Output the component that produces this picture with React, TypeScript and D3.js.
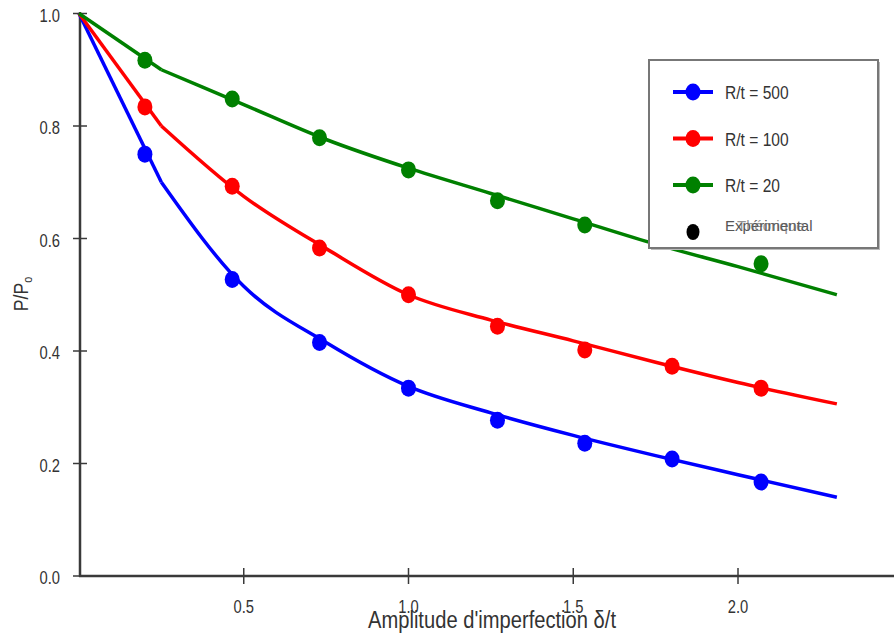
import React from "react";
import * as d3 from "d3";

// Theory curves (lines)
const theoryX = [0, 0.25, 0.5, 0.75, 1.0, 1.25, 1.5, 1.75, 2.0, 2.3];
const theory500 = [1.0, 0.70, 0.515, 0.415, 0.337, 0.29, 0.25, 0.214, 0.18, 0.14];
const theory100 = [1.0, 0.80, 0.675, 0.582, 0.50, 0.455, 0.418, 0.38, 0.344, 0.306];
const theory20 = [1.0, 0.90, 0.838, 0.776, 0.725, 0.68, 0.635, 0.59, 0.55, 0.50];

// Experimental points
const expX = [0.2, 0.465, 0.73, 1.0, 1.27, 1.535, 1.8, 2.07];
const exp500 = [0.75, 0.527, 0.415, 0.334, 0.277, 0.236, 0.208, 0.167];
const exp100 = [0.834, 0.693, 0.583, 0.5, 0.444, 0.402, 0.373, 0.334];
const exp20 = [0.917, 0.848, 0.779, 0.722, 0.667, 0.624, 0.6, 0.555];

const seriesNames = ["R/t = 500", "R/t = 100", "R/t = 20"];
const seriesColors = ["#0000ff", "#ff0000", "#008000"];
const xTicks = [0.5, 1.0, 1.5, 2.0];
const yTicks = [0.0, 0.2, 0.4, 0.6, 0.8, 1.0];

const W = 894;
const H = 637;

export default function App() {
  // scales: x=0 sits on the y axis, y=0 on the x axis
  const x = d3.scaleLinear().domain([0, 2.0]).range([79, 738]);
  const y = d3.scaleLinear().domain([0, 1]).range([576, 13.5]);

  // straight first segment, smooth curve afterwards (kink at 0.25)
  const straight = d3
    .line<[number, number]>()
    .x((d) => x(d[0]))
    .y((d) => y(d[1]));
  const smooth = d3
    .line<[number, number]>()
    .x((d) => x(d[0]))
    .y((d) => y(d[1]))
    .curve(d3.curveMonotoneX);

  const theory = [theory500, theory100, theory20];
  const exp = [exp500, exp100, exp20];
  const axisColor = "#3a3a3a";
  const textColor = "#333";
  const font = "'Liberation Sans', Arial, sans-serif";

  return (
    <svg
      width={W}
      height={H}
      style={{ position: "absolute", left: 0, top: 0, background: "#fff" }}
      fontFamily={font}
    >
      {/* axes */}
      <line x1={80} x2={80} y1={12} y2={577} stroke={axisColor} strokeWidth={2.5} />
      <line x1={79} x2={W} y1={576} y2={576} stroke={axisColor} strokeWidth={2.5} />

      {yTicks.map((t) => (
        <g key={"y" + t}>
          <line
            x1={73}
            x2={t === 0 ? 80 : 87}
            y1={y(t)}
            y2={y(t)}
            stroke={axisColor}
            strokeWidth={1.5}
          />
          <g transform={`translate(60,${y(t) + 8}) scale(0.82,1)`}>
            <text textAnchor="end" fontSize={18} fill={textColor}>
              {t.toFixed(1)}
            </text>
          </g>
        </g>
      ))}

      {xTicks.map((t) => (
        <g key={"x" + t}>
          <line
            x1={x(t)}
            x2={x(t)}
            y1={568}
            y2={584}
            stroke={axisColor}
            strokeWidth={1.5}
          />
          <g transform={`translate(${x(t)},${613}) scale(0.82,1)`}>
            <text textAnchor="middle" fontSize={18} fill={textColor}>
              {t.toFixed(1)}
            </text>
          </g>
        </g>
      ))}

      {/* axis titles */}
      <g transform="translate(492,628) scale(0.84,1)">
        <text textAnchor="middle" fontSize={24} fill={textColor}>
          Amplitude d'imperfection δ/t
        </text>
      </g>
      <g transform="translate(28,294) rotate(-90) scale(0.84,1)">
        <text textAnchor="middle" fontSize={21} fill={textColor}>
          P/P<tspan fontSize={13} dy={4}>o</tspan>
        </text>
      </g>

      {/* theory lines */}
      {theory.map((vals, i) => {
        const pts = theoryX.map((v, j) => [v, vals[j]] as [number, number]);
        return (
          <g key={"l" + i} fill="none" stroke={seriesColors[i]} strokeWidth={3.5}>
            <path d={straight(pts.slice(0, 2)) || ""} />
            <path d={smooth(pts.slice(1)) || ""} />
          </g>
        );
      })}

      {/* experimental points */}
      {exp.map((vals, i) =>
        vals.map((v, j) => (
          <ellipse
            key={"p" + i + "-" + j}
            cx={x(expX[j])}
            cy={y(v)}
            rx={7.5}
            ry={8.5}
            fill={seriesColors[i]}
          />
        ))
      )}

      {/* legend */}
      <rect x={651} y={62} width={229} height={188} fill="#bbb" />
      <rect x={649} y={60} width={229} height={188} fill="#fff" stroke="#777" strokeWidth={2} />
      {seriesNames.map((name, i) => {
        const ly = 92 + i * 46.5;
        return (
          <g key={"lg" + i}>
            <line x1={673} x2={713} y1={ly} y2={ly} stroke={seriesColors[i]} strokeWidth={4} />
            <ellipse cx={693} cy={ly} rx={7.5} ry={8.5} fill={seriesColors[i]} />
            <g transform={`translate(725,${ly + 7}) scale(0.82,1)`}>
              <text fontSize={19} fill={textColor}>
                {name}
              </text>
            </g>
          </g>
        );
      })}
      <ellipse cx={693} cy={232} rx={6.5} ry={8} fill="#000" />
      <text x={725} y={231} fontSize={15} fill="#555">
        Expérimental
      </text>
      <text x={737} y={231} fontSize={15} fill="#666" opacity={0.7}>
        Théorique
      </text>
    </svg>
  );
}
